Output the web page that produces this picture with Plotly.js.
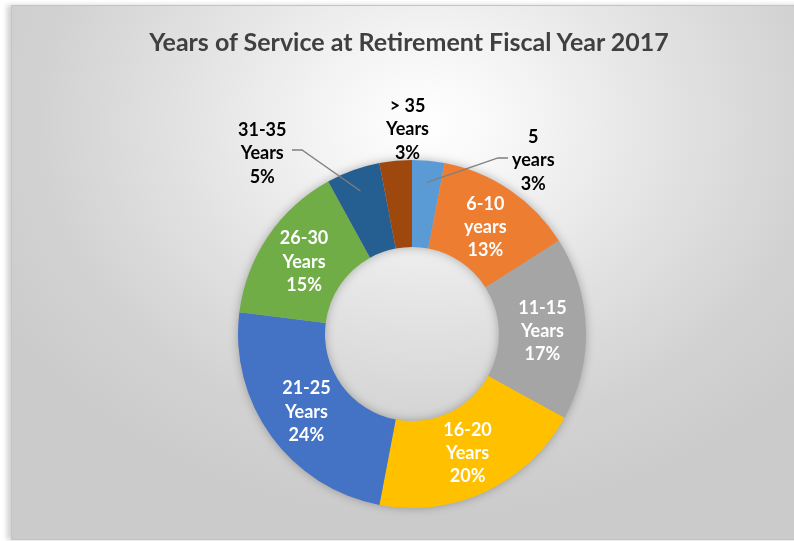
<!DOCTYPE html>
<html>
<head>
<meta charset="utf-8">
<script src="https://cdn.plot.ly/plotly-3.0.1.min.js"></script>
<style>
  html, body { margin:0; padding:0; background:#ffffff; }
  #wrap { position:relative; width:794px; height:541px; overflow:hidden; }
  #frame { position:absolute; left:11px; top:5px; width:800px; height:533px;
    border:1px solid #c4c4c4;
    background: radial-gradient(ellipse 62% 75% at 52% 22%, #ffffff 0%, #f6f6f6 18%, #e2e2e2 50%, #d2d2d2 78%, #cbcbcb 100%);
    box-shadow: -4px 0 5px rgba(0,0,0,0.18); }
  #chart { position:absolute; left:0; top:0; width:794px; height:541px; }
  .pielayer { filter: drop-shadow(0px 0px 5px rgba(0,0,0,0.28)); }
</style>
</head>
<body>
<div id="wrap">
  <div id="frame"></div>
  <div id="chart"></div>
</div>
<script>
// ---- data ----
const categories = ['5<br>years', '6-10<br>years', '11-15<br>Years', '16-20<br>Years', '21-25<br>Years', '26-30<br>Years', '31-35<br>Years', '> 35<br>Years'];
const values = [3, 13, 17, 20, 24, 15, 5, 3];
const colors = ['#5B9BD5', '#ED7D31', '#A5A5A5', '#FFC000', '#4472C4', '#70AD47', '#255E91', '#9E480E'];
const outsideLabelled = [true, false, false, false, false, false, true, true];
const titleText = 'Years of Service at Retirement Fiscal Year 2017';

// ---- layout constants ----
const W = 794, H = 541;
const cx = 412, cy = 334, R = 174;
const FONT = 'Lato, "Open Sans", sans-serif';

const total = values.reduce((a, b) => a + b, 0);
const texttemplates = outsideLabelled.map(o => o ? '' : '%{label}<br>%{percent:.0%}');

const trace = {
  type: 'pie',
  labels: categories,
  values: values,
  sort: false,
  direction: 'clockwise',
  rotation: 0,
  hole: 0.5,
  marker: { colors: colors, line: { width: 0 } },
  texttemplate: texttemplates,
  textposition: 'inside',
  insidetextorientation: 'horizontal',
  insidetextfont: { family: FONT, size: 18, color: '#ffffff', weight: 'bold' },
  domain: { x: [(cx - R) / W, (cx + R) / W], y: [(H - cy - R) / H, (H - cy + R) / H] },
  showlegend: false,
  hoverinfo: 'label+percent'
};

// mid-angle of each slice (clockwise from 12 o'clock), from the data
const midAngles = [];
let cum = 0;
values.forEach(v => { midAngles.push((cum + v / 2) / total * 2 * Math.PI); cum += v; });
function sliceP(i, r) {
  const a = midAngles[i];
  return [(cx + r * Math.sin(a)) / W, 1 - (cy - r * Math.cos(a)) / H];
}
function px(x, y) { return [x / W, 1 - y / H]; }

const outside = [
  { i: 0, text: '5<br>years<br>' + Math.round(values[0] / total * 100) + '%', pos: [533, 160], line: [[508, 158], [498, 158]] },
  { i: 6, text: '31-35<br>Years<br>' + Math.round(values[6] / total * 100) + '%', pos: [262, 152], line: [[292, 150], [302, 150]] },
  { i: 7, text: '> 35<br>Years<br>' + Math.round(values[7] / total * 100) + '%', pos: [407, 128], line: null }
];

const annotations = outside.map(o => {
  const p = px(o.pos[0], o.pos[1]);
  return { xref: 'paper', yref: 'paper', x: p[0], y: p[1], xanchor: 'center', yanchor: 'middle',
    text: o.text, showarrow: false, align: 'center',
    font: { family: FONT, size: 18, color: '#000000', weight: 'bold' } };
});
const shapes = outside.filter(o => o.line).map(o => {
  const a = px(o.line[0][0], o.line[0][1]);
  const b = px(o.line[1][0], o.line[1][1]);
  const e = sliceP(o.i, 152);
  return { type: 'path', xref: 'paper', yref: 'paper',
    path: `M ${a[0]} ${a[1]} L ${b[0]} ${b[1]} L ${e[0]} ${e[1]}`,
    line: { color: '#7f7f7f', width: 1.3 } };
});

const layout = {
  width: W, height: H,
  margin: { l: 0, r: 0, t: 0, b: 0 },
  paper_bgcolor: 'rgba(0,0,0,0)',
  plot_bgcolor: 'rgba(0,0,0,0)',
  title: { text: titleText, x: 409 / W, xanchor: 'center', y: 1 - 42 / H, yanchor: 'middle', yref: 'container',
    font: { family: FONT, size: 25, color: '#404040', weight: 'bold' } },
  uniformtext: { mode: 'show', minsize: 18 },
  annotations: annotations,
  shapes: shapes
};

Plotly.newPlot('chart', [trace], layout, { displayModeBar: false, staticPlot: true });
</script>
</body>
</html>
